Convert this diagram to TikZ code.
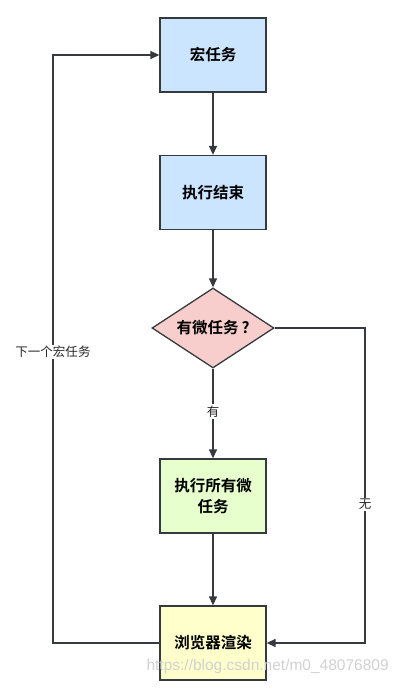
\documentclass[tikz,border=0pt]{standalone}
\usepackage{fontspec}
\newfontfamily\cjk{Noto Sans CJK SC}
\newfontfamily\cjkb{Noto Sans CJK SC Bold}
\setmainfont{Liberation Sans}
\usetikzlibrary{shapes.geometric,arrows.meta}
\definecolor{blueF}{HTML}{CCE5FF}
\definecolor{redF}{HTML}{F8CECC}
\definecolor{greenF}{HTML}{E6FFCC}
\definecolor{yellowF}{HTML}{FFFFCC}
\definecolor{lineC}{HTML}{36393D}
\begin{document}
\begin{tikzpicture}[x=1pt,y=-1pt,
  box/.style={draw=lineC,line width=1.3pt,minimum width=106pt,minimum height=74pt,inner sep=0pt,align=center,font=\cjkb\fontsize{15.5}{21}\selectfont},
  dia/.style={draw=lineC,line width=1.3pt,diamond,aspect=1.525,minimum width=122pt,minimum height=80pt,inner sep=0pt,fill=redF,font=\cjkb\fontsize{15.5}{18}\selectfont},
  conn/.style={draw=lineC,line width=1.3pt,-{Triangle[length=9pt,width=8pt]}},
  lbl/.style={fill=white,inner sep=1.5pt,font=\cjk\fontsize{12.5}{14}\selectfont,text=black!85}]
\useasboundingbox (0,0) rectangle (400,693);
\node[box,fill=blueF] (a) at (213,55) {宏任务};
\node[box,fill=blueF] (b) at (213,192.5) {执行结束};
\node[dia] (c) at (213,328) {有微任务\hspace{3pt}?};
\node[box,fill=greenF] (d) at (213,496) {执行所有微\\任务};
\node[box,fill=yellowF] (e) at (213,643) {浏览器渲染};
\coordinate (l1) at (53,643);
\coordinate (l2) at (53,55);
\coordinate (r1) at (365,328);
\coordinate (r2) at (365,643);
\draw[conn] (a) -- (b);
\draw[conn] (b) -- (c);
\draw[conn] (c) -- node[lbl,pos=0.48] (y) {有} (d);
\draw[conn] (d) -- (e);
\draw[conn] (e.west) -- (l1) -- node[lbl,pos=0.5,yshift=-3pt] (n) {下一个宏任务} (l2) -- (a.west);
\draw[conn] (c.east) -- (r1) -- node[lbl,pos=0.56] (w) {无} (r2) -- (e.east);
\node[text=black!18,font=\fontsize{15.5}{17}\selectfont,anchor=west] (wm) at (143,666) {https://blog.csdn.net/m0\_48076809};
\end{tikzpicture}
\end{document}
